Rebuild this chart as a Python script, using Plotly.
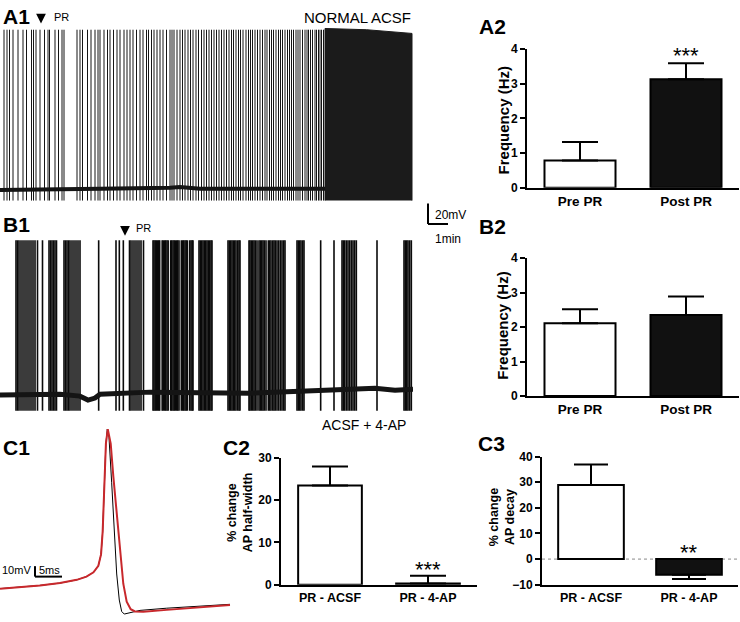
import plotly.graph_objects as go

W, H = 740, 622
def px(x): return x / W
def py(y): return 1 - y / H

FONT = "Liberation Sans, Arial, sans-serif"

# ---------------- data ----------------
# A1: spike times (s) in normal ACSF, then a dense firing block
a1_spike_times_s = [12, 21, 28.5, 39, 54, 69, 79.5, 94.5, 100.5, 108, 120, 133.5, 144, 148.5, 165, 175.5,
                    186, 192, 231, 240, 247.5, 262.5, 273, 285, 294, 300, 312, 322.5, 330, 340.5, 351, 360,
                    372, 381, 390, 399, 409.5, 420, 429, 439.5, 445.5, 454.5, 462, 471, 480, 489, 499.5, 510,
                    516, 522, 531, 540, 547.5, 555, 564, 571.5, 579, 588, 595.5, 604.5, 612, 619.5, 627,
                    634.5, 642, 649.5, 657, 664.5, 672, 679.5, 687, 694.5, 700.5, 708, 715.5, 721.5, 729,
                    738, 745.5, 751.5, 757.5, 765, 772.5, 780, 787.5, 795, 801, 808.5, 814.5, 820.5, 828,
                    835.5, 841.5, 847.5, 855, 862.5, 868.5, 874.5, 880.5, 888, 894, 900, 907.5, 915, 921,
                    925.5, 931.5, 937.5, 945, 949.5, 955.5, 960, 964.5, 970.5]
a1_spike_peak_mv = 95
a1_spike_trough_mv = -71.4
a1_block_t = [975, 975, 1100, 1236, 1236]
a1_block_v = [-71.4, 96.2, 95.0, 91.4, -71.4]
a1_base_t = [0, 150, 300, 510, 540, 600, 750, 975]
a1_base_v = [-61.0, -60.8, -60.0, -59.0, -58.1, -60.0, -60.0, -60.0]

# B1: spike times (s) in ACSF + 4-AP
b1_spike_times_s = [48, 52.5, 57, 63, 69, 75, 81, 87, 93, 99, 105, 112.5, 127.5,
                    147, 151.5, 156, 160.5, 165, 169.5,
                    192, 196.5, 201, 205.5, 210, 216, 222, 228, 234, 240,
                    296, 348, 358, 370,
                    388.5, 393, 399, 405, 411, 417, 423, 430.5,
                    459, 462, 465.5, 469, 472.5, 476, 479, 486.5, 490, 494, 497, 501, 504.5, 512, 515,
                    519, 522.5, 526, 530, 533, 537, 544, 548, 551, 555, 558.5, 562, 569, 573, 576.5, 579,
                    597, 601, 605, 609, 613, 617, 621, 625, 629, 633, 636,
                    684, 688, 692, 696, 700, 704, 708, 713, 717, 720,
                    747, 750, 754, 758, 762, 766, 771, 777, 781, 785, 789, 793, 798, 805, 809, 813, 818,
                    822, 826, 831, 836, 841, 846, 851, 855,
                    891, 895, 899, 903, 908, 912,
                    962, 1002,
                    1026, 1030, 1034, 1039, 1044, 1049, 1054, 1059, 1064, 1069,
                    1131,
                    1212, 1216, 1220, 1224, 1229, 1234]
b1_spike_peak_mv = 89
b1_spike_trough_mv = -77.1
b1_base_t = [0, 45, 180, 240, 264, 285, 300, 450, 600, 750, 900, 1020, 1125, 1185, 1239]
b1_base_v = [-61.9, -61.9, -61.0, -62.9, -66.7, -64.8, -61.0, -59.0, -59.0, -60.0, -58.1, -57.1, -55.2, -57.1, -56.2]

# A2 / B2 frequency bars
freq_categories = ["Pre PR", "Post PR"]
a2_freq = [0.79, 3.13]
a2_sem = [0.53, 0.46]
b2_freq = [2.11, 2.35]
b2_sem = [0.41, 0.54]

# C2 / C3 bars
c_categories = ["PR - ACSF", "PR - 4-AP"]
c2_halfwidth = [23.4, 0.3]
c2_sem = [4.5, 1.8]
c3_decay = [28.9, -6.1]
c3_sem = [8.0, 1.7]

# C1 action potential waveforms (ms, mV)
ap_rise_t = [-19.8, -16.1, -12.4, -8.7, -5.6, -3.8, -2.5, -1.6, -1.1, -0.8, -0.5, -0.2, 0.06]
ap_rise_v = [-70, -68.8, -66.9, -64.7, -61.6, -58.5, -54.4, -48.2, -37.3, -15.5, 31.2, 68.6, 82.6]
ap_ctrl_decay_t = [0.37, 0.87, 1.30, 1.80, 2.28, 2.72, 3.20, 3.94, 6.11, 11.06, 17.22, 22.78]
ap_ctrl_decay_v = [74.9, 31.2, -15.5, -56.0, -80.9, -91.8, -94.3, -93.4, -90.8, -88.7, -86.5, -85.0]
ap_pr_decay_t = [0.15, 0.69, 1.17, 1.80, 2.41, 3.02, 3.65, 4.39, 5.19, 6.72, 11.06, 17.22, 22.78]
ap_pr_decay_v = [82.5, 68.6, 37.5, 0.1, -37.3, -65.3, -82.4, -89.6, -91.8, -92.1, -90.3, -87.8, -85.7]

# scale bars
trace_bar_mv = 20
trace_bar_s = 60
ap_bar_mv = 10
ap_bar_ms = 5


def spike_segments(times, lo, hi):
    xs, ys = [], []
    for t in times:
        xs += [t, t, None]
        ys += [lo, hi, None]
    return xs, ys


fig = go.Figure()
TRACE_COL = "#141414"

# ---- A1 ----
xs, ys = spike_segments(a1_spike_times_s, a1_spike_trough_mv, a1_spike_peak_mv)
fig.add_trace(go.Scatter(x=xs, y=ys, mode="lines", line=dict(color=TRACE_COL, width=1),
                         xaxis="x", yaxis="y", hoverinfo="skip"))
fig.add_trace(go.Scatter(x=a1_block_t, y=a1_block_v, mode="lines", fill="toself", fillcolor="#1b1b1b",
                         line=dict(color="#1b1b1b", width=1), xaxis="x", yaxis="y", hoverinfo="skip"))
fig.add_trace(go.Scatter(x=a1_base_t, y=a1_base_v, mode="lines", line=dict(color=TRACE_COL, width=4),
                         xaxis="x", yaxis="y", hoverinfo="skip"))

# ---- B1 ----
xs, ys = spike_segments(b1_spike_times_s, b1_spike_trough_mv, b1_spike_peak_mv)
fig.add_trace(go.Scatter(x=xs, y=ys, mode="lines", line=dict(color="#0a0a0a", width=1.6),
                         xaxis="x3", yaxis="y3", hoverinfo="skip"))
fig.add_trace(go.Scatter(x=b1_base_t, y=b1_base_v, mode="lines", line=dict(color=TRACE_COL, width=5),
                         xaxis="x3", yaxis="y3", hoverinfo="skip"))

# ---- bars ----
def bar(cats, vals, up, down, colors, xa, ya, width, cap):
    return go.Bar(x=cats, y=vals, width=width, xaxis=xa, yaxis=ya,
                  marker=dict(color=colors, line=dict(color="black", width=2)),
                  error_y=dict(type="data", symmetric=False, array=up, arrayminus=down,
                               color="black", thickness=2, width=cap),
                  hoverinfo="skip")

fig.add_trace(bar(freq_categories, a2_freq, a2_sem, [0, 0], ["white", "#111111"], "x2", "y2", 0.67, 18))
fig.add_trace(bar(freq_categories, b2_freq, b2_sem, [0, 0], ["white", "#111111"], "x4", "y4", 0.67, 18))
fig.add_trace(bar(c_categories, c2_halfwidth, c2_sem, [0, 0], ["white", "white"], "x6", "y6", 0.65, 18))
fig.add_trace(bar(c_categories, c3_decay, [c3_sem[0], 0], [0, c3_sem[1]], ["white", "#111111"], "x7", "y7", 0.67, 17))

# ---- C1 ----
fig.add_trace(go.Scatter(x=ap_rise_t + ap_ctrl_decay_t, y=ap_rise_v + ap_ctrl_decay_v, mode="lines",
                         line=dict(color="black", width=1), xaxis="x5", yaxis="y5", hoverinfo="skip"))
fig.add_trace(go.Scatter(x=ap_rise_t[:-1] + ap_pr_decay_t, y=ap_rise_v[:-1] + ap_pr_decay_v, mode="lines",
                         line=dict(color="#c8282c", width=2), xaxis="x5", yaxis="y5", hoverinfo="skip"))

hidden = dict(visible=False, showgrid=False, zeroline=False)

def bar_x(domain, anchor, size):
    return dict(domain=domain, anchor=anchor, type="category", showline=True, linewidth=2,
                linecolor="black", ticks="", showgrid=False, zeroline=False,
                tickfont=dict(family=FONT, size=size, color="black", weight="bold"))

def bar_y(domain, anchor, rng, dtick):
    return dict(domain=domain, anchor=anchor, range=rng, dtick=dtick, showline=True, linewidth=2,
                linecolor="black", ticks="outside", ticklen=5, tickwidth=2, tickcolor="black",
                showgrid=False, zeroline=False,
                tickfont=dict(family=FONT, size=12, color="black", weight="bold"))

fig.update_layout(
    width=W, height=H, margin=dict(l=0, r=0, t=0, b=0),
    paper_bgcolor="white", plot_bgcolor="white", showlegend=False,
    font=dict(family=FONT, color="black"),
    xaxis=dict(domain=[px(0), px(450)], range=[0, 1350], anchor="y", **hidden),
    yaxis=dict(domain=[py(225), py(20)], range=[-97.1, 98.1], anchor="x", **hidden),
    xaxis3=dict(domain=[px(0), px(413)], range=[0, 1239], anchor="y3", **hidden),
    yaxis3=dict(domain=[py(415), py(233)], range=[-79.0, 94.3], anchor="x3", **hidden),
    xaxis5=dict(domain=[px(0), px(232)], range=[-19.81, 23.15], anchor="y5", **hidden),
    yaxis5=dict(domain=[py(622), py(428)], range=[-95.2, 86.1], anchor="x5", **hidden),
    xaxis2=bar_x([px(527), px(739)], "y2", 13.5),
    yaxis2=bar_y([py(185), py(43)], "x2", [0, 4], 1),
    xaxis4=bar_x([px(527), px(739)], "y4", 13.5),
    yaxis4=bar_y([py(398), py(257)], "x4", [0, 4], 1),
    xaxis6=bar_x([px(281), px(477)], "y6", 12.5),
    yaxis6=bar_y([py(591), py(461)], "x6", [0, 30], 10),
    xaxis7=bar_x([px(542), px(738)], "y7", 12.5),
    yaxis7=bar_y([py(591), py(460)], "x7", [-10, 40], 10),
)

# dotted zero line in C3
fig.add_shape(type="line", xref="x7 domain", x0=0, x1=1, yref="y7", y0=0, y1=0, layer="below",
              line=dict(color="#888888", width=1, dash="dot"))

# scale bars (data units)
sb_t, sb_v = 1284, -94.3
fig.add_shape(type="line", xref="x", yref="y", x0=sb_t, x1=sb_t, y0=sb_v, y1=sb_v + trace_bar_mv,
              line=dict(color="black", width=2))
fig.add_shape(type="line", xref="x", yref="y", x0=sb_t, x1=sb_t + trace_bar_s, y0=sb_v, y1=sb_v,
              line=dict(color="black", width=2))
ap_t0, ap_v0 = -13.33, -58.5
fig.add_shape(type="line", xref="x5", yref="y5", x0=ap_t0, x1=ap_t0, y0=ap_v0, y1=ap_v0 + ap_bar_mv,
              line=dict(color="black", width=2))
fig.add_shape(type="line", xref="x5", yref="y5", x0=ap_t0, x1=ap_t0 + ap_bar_ms, y0=ap_v0, y1=ap_v0,
              line=dict(color="black", width=2))

ann = []
def txt(x, y, s, size, bold=False, xanchor="left", yanchor="middle", angle=0, xref="paper", yref="paper"):
    ann.append(dict(x=x, y=y, xref=xref, yref=yref, text=s, showarrow=False, xanchor=xanchor,
                    yanchor=yanchor, textangle=angle,
                    font=dict(family=FONT, size=size, color="black", weight="bold" if bold else "normal")))

# panel labels
txt(px(1), py(10), "A1", 21, True)
txt(px(477), py(19.5), "A2", 21, True)
txt(px(1), py(222), "B1", 21, True)
txt(px(477), py(224.5), "B2", 21, True)
txt(px(1), py(451), "C1", 21, True)
txt(px(221), py(451), "C2", 21, True)
txt(px(476), py(447), "C3", 21, True)

txt(px(413), py(10.5), "NORMAL ACSF", 15, xanchor="right")
txt(px(408), py(428), "ACSF + 4-AP", 14, xanchor="right")
txt(px(52), py(10.5), "PR", 11)
txt(px(134), py(226), "PR", 11)

# scale bar labels
txt(px(433), py(213), "20mV", 12)
txt(px(433), py(237), "1min", 12)
txt(px(33), py(576), "10mV", 11, xanchor="right")
txt(px(37), py(576), "5ms", 11)

# axis titles
txt(px(503), py(116), "Frequency (Hz)", 15, True, xanchor="center", angle=-90)
txt(px(503), py(326), "Frequency (Hz)", 15, True, xanchor="center", angle=-90)
txt(px(240), py(517), "% change<br>AP half-width", 12.5, True, xanchor="center", angle=-90)
txt(px(502), py(522), "% change<br>AP decay", 12.5, True, xanchor="center", angle=-90)

# significance stars
txt("Post PR", 3.82, "***", 22, xanchor="center", xref="x2", yref="y2")
txt("PR - 4-AP", 3.6, "***", 22, xanchor="center", xref="x6", yref="y6")
txt("PR - 4-AP", 2.4, "**", 22, xanchor="center", xref="x7", yref="y7")

# PR arrows
for ax_x, tip_y in [(41, 17), (125, 234)]:
    ann.append(dict(x=px(ax_x), y=py(tip_y), xref="paper", yref="paper", text="", showarrow=True,
                    ax=0, ay=-11, arrowhead=2, arrowsize=1.3, arrowwidth=1.5, arrowcolor="black"))

fig.update_layout(annotations=ann)
fig.write_html("out.html", config={"displayModeBar": False},
               post_script="document.body.style.margin='0';document.body.style.overflow='hidden';")
